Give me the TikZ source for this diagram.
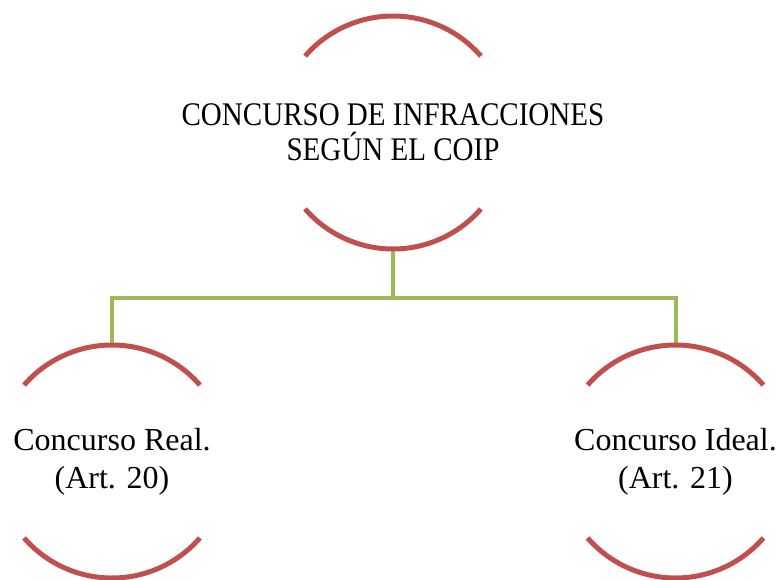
\documentclass[tikz,border=0pt]{standalone}
\usepackage{fontspec}
\setmainfont{Liberation Serif}
\newfontfamily\capsfont{Liberation Serif}[FakeStretch=0.88]
\definecolor{ringred}{RGB}{192,80,77}
\definecolor{linkgreen}{RGB}{155,187,89}
\tikzset{
	ring/.style={circle, minimum size=233pt, inner sep=0pt, outer sep=0pt},
	ringtext/.style={align=center, inner sep=0pt},
	arcline/.style={line width=5pt, color=ringred},
	link/.style={line width=4pt, color=linkgreen},
}
\def\ringarcs(#1){\draw[arcline] (#1.41) arc (41:139:116.5pt); \draw[arcline] (#1.221) arc (221:319:116.5pt);}

\begin{document}
\begin{tikzpicture}[x=1pt, y=1pt]
		%%%%% START %%%%%
		\useasboundingbox (0, 0) rectangle (780, -579);
		
		\node[ring] (coip) at (393, -132.5) {};
		\node[ring] (real) at (112, -461.5) {};
		\node[ring] (ideal) at (675.5, -461.5) {};
		
		\node[ringtext, font=\capsfont\fontsize{33}{35}\selectfont] (coiptext) at (coip) {CONCURSO DE INFRACCIONES\\SEGÚN EL COIP};
		\node[ringtext, font=\fontsize{32}{38}\selectfont] (realtext) at (real) {Concurso Real.\\(Art. 20)};
		\node[ringtext, font=\fontsize{32}{38}\selectfont] (idealtext) at (ideal) {Concurso Ideal.\\(Art. 21)};
		
		\coordinate (split) at (393, -298);
		\draw[link] (coip.south) -- (split);
		\draw[link] (real.north) |- (split) -| (ideal.north);
		
		\ringarcs(coip)
		\ringarcs(real)
		\ringarcs(ideal)
		
		%%%%% END %%%%%
\end{tikzpicture}
\end{document}
